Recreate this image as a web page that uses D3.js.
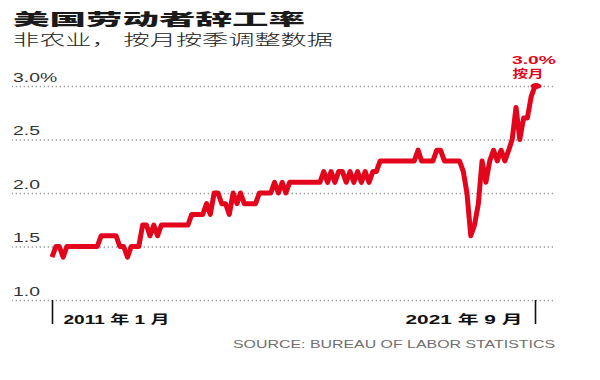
<!DOCTYPE html>
<html><head><meta charset="utf-8">
<script src="https://cdn.jsdelivr.net/npm/d3@7"></script>
<style>body{margin:0;background:#fff}svg{display:block}</style>
</head><body>
<svg id="c" width="600" height="380"></svg>
<script>
const titleText = "美国劳动者辞工率";
const subtitleText = "非农业， 按月按季调整数据";
const sourceText = "SOURCE: BUREAU OF LABOR STATISTICS";
const startYear = 2011;
const quits2011 = [1.4,1.5,1.5,1.4,1.5,1.5,1.5,1.5,1.5,1.5,1.5,1.5];
const quits2012 = [1.5,1.6,1.6,1.6,1.6,1.6,1.5,1.5,1.4,1.5,1.5,1.5];
const quits2013 = [1.7,1.7,1.6,1.7,1.6,1.7,1.7,1.7,1.7,1.7,1.7,1.7];
const quits2014 = [1.7,1.8,1.8,1.8,1.8,1.9,1.8,2.0,2.0,1.9,1.9,1.8];
const quits2015 = [2.0,1.9,2.0,1.9,1.9,1.9,1.9,2.0,2.0,2.0,2.0,2.1];
const quits2016 = [2.0,2.1,2.0,2.1,2.1,2.1,2.1,2.1,2.1,2.1,2.1,2.1];
const quits2017 = [2.2,2.1,2.2,2.1,2.2,2.2,2.1,2.2,2.1,2.2,2.1,2.2];
const quits2018 = [2.1,2.2,2.2,2.3,2.3,2.3,2.3,2.3,2.3,2.3,2.3,2.3];
const quits2019 = [2.3,2.4,2.3,2.3,2.3,2.3,2.4,2.4,2.3,2.3,2.3,2.3];
const quits2020 = [2.3,2.2,2.0,1.6,1.7,1.9,2.3,2.1,2.3,2.4,2.3,2.4];
const quits2021 = [2.3,2.4,2.5,2.8,2.5,2.7,2.7,2.9,3.0];
const yTicks = [1.0, 1.5, 2.0, 2.5, 3.0];
const yTickLabels = ["1.0", "1.5", "2.0", "2.5", "3.0%"];
const xTickLabels = ["2011 年 1 月", "2021 年 9 月"];
const lastLabel = ["3.0%", "按月"];

const years = [quits2011,quits2012,quits2013,quits2014,quits2015,quits2016,quits2017,quits2018,quits2019,quits2020,quits2021];
const data = [];
years.forEach((arr, yi) => arr.forEach((v, m) => data.push({date: new Date(startYear + yi, m, 1), value: v})));

const RED = "#e3051b";
const svg = d3.select("#c");
const STRETCH = 1.55;
function stretch(sel, k) {
  sel.each(function(){ const n = this.getComputedTextLength(); d3.select(this).attr("textLength", n * k).attr("lengthAdjust", "spacingAndGlyphs"); });
}
function fitTo(sel, w) { sel.attr("textLength", w).attr("lengthAdjust", "spacingAndGlyphs"); }

const x = d3.scaleTime().domain([data[0].date, data[data.length-1].date]).range([52, 535]);
const y = d3.scaleLinear().domain([1, 3]).range([300, 86]);

// title
svg.append("text").attr("x", 13).attr("y", 25).text(titleText)
  .style("font-family", "'Noto Sans CJK SC'").style("font-weight", 900).style("font-size", "16px").attr("fill", "#1a1a1a")
  .call(fitTo, 292);
svg.append("text").attr("x", 13).attr("y", 45).text(subtitleText)
  .style("font-family", "'Noto Sans CJK SC'").style("font-weight", 300).style("font-size", "15px").attr("fill", "#222")
  .call(fitTo, 320);

// grid
const yAxis = d3.axisLeft(y).tickValues(yTicks).tickSize(541).tickFormat((d,i) => yTickLabels[i]);
const g = svg.append("g").attr("transform", "translate(553,0)").call(yAxis);
g.select(".domain").remove();
g.selectAll(".tick line").attr("stroke", "#9a9a9a").attr("stroke-width", 1.3).attr("stroke-dasharray", "1.3,2.7");
g.selectAll(".tick text").attr("x", -540).attr("dy", -5).attr("text-anchor", "start")
  .style("font-family", "'Liberation Sans', Arial, sans-serif").style("font-size", "12.5px").attr("fill", "#333")
  .call(stretch, STRETCH);

// x ticks
const xAxis = d3.axisBottom(x).tickValues([data[0].date, data[data.length-1].date]).tickSize(24).tickFormat((d,i) => xTickLabels[i]);
const gx = svg.append("g").attr("transform", "translate(0,300)").call(xAxis);
gx.select(".domain").remove();
gx.selectAll(".tick line").attr("stroke", "#111").attr("stroke-width", 1.6);
gx.selectAll(".tick text").attr("y", 0).attr("dy", 24)
  .style("font-family", "'Liberation Sans', Arial, 'Noto Sans CJK SC', sans-serif").style("font-weight", "bold").style("font-size", "12px").attr("fill", "#111")
  .each(function(d, i){
    const t = d3.select(this);
    if (i === 0) { t.attr("text-anchor", "start").attr("x", 11); fitTo(t, 106); }
    else { t.attr("text-anchor", "end").attr("x", -13); fitTo(t, 117); }
  });

// line
const line = d3.line().x(d => x(d.date)).y(d => y(d.value)).curve(d3.curveLinear);
svg.append("path").datum(data).attr("d", line).attr("fill", "none").attr("stroke", RED)
  .attr("stroke-width", 5).attr("stroke-linejoin", "round").attr("stroke-linecap", "butt");
const last = data[data.length-1];
svg.append("ellipse").attr("cx", x(last.date) + 1).attr("cy", y(last.value)).attr("rx", 5.5).attr("ry", 3).attr("fill", RED);

// annotation
svg.append("text").attr("x", 534).attr("y", 64).attr("text-anchor", "middle").text(lastLabel[0])
  .style("font-family", "'Liberation Sans', Arial, sans-serif").style("font-weight", "bold").style("font-size", "11.5px").attr("fill", RED)
  .call(fitTo, 44);
svg.append("text").attr("x", 528).attr("y", 78).attr("text-anchor", "middle").text(lastLabel[1])
  .style("font-family", "'Noto Sans CJK SC'").style("font-weight", "bold").style("font-size", "11px").attr("fill", RED)
  .call(fitTo, 31);

// source
svg.append("text").attr("x", 233).attr("y", 348).text(sourceText)
  .style("font-family", "'Liberation Sans', Arial, sans-serif").style("font-size", "10.5px").attr("fill", "#6f6f6f")
  .call(fitTo, 322);
</script>
</body></html>
